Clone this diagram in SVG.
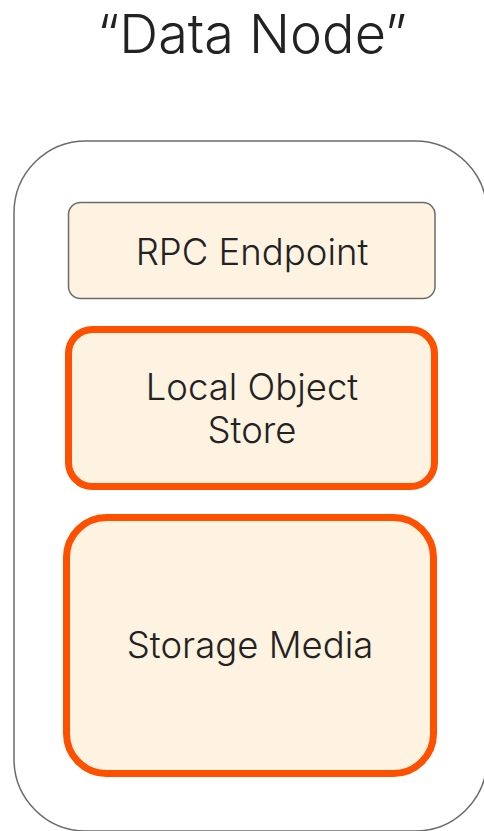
<svg xmlns="http://www.w3.org/2000/svg" width="484" height="831" viewBox="0 0 484 831">
  <style>
    .label { font-family: Inter, "Noto Sans", "Liberation Sans", sans-serif; font-weight: 300; fill: #222222; text-anchor: middle; }
    .box { fill: #FEF2E1; }
    .plain { stroke: #6b6b6b; stroke-width: 1.5; }
    .hot { stroke: #FF5000; stroke-width: 7; }
  </style>
  <rect width="484" height="831" fill="#ffffff"/>
  <text class="label" x="252" y="53" font-size="54">“Data Node”</text>
  <g id="data-node">
    <rect x="14" y="141" width="473" height="690" rx="72" fill="none" stroke="#6b6b6b" stroke-width="1.5"/>
  </g>
  <g id="rpc-endpoint">
    <rect class="box plain" x="68.5" y="202.5" width="366.5" height="96" rx="12"/>
    <text class="label" x="252" y="265" font-size="36.5">RPC Endpoint</text>
  </g>
  <g id="local-object-store">
    <rect class="box hot" x="68.5" y="329.5" width="366" height="157" rx="24"/>
    <text class="label" x="252" y="400" font-size="36.5">Local Object</text>
    <text class="label" x="252" y="443" font-size="36.5">Store</text>
  </g>
  <g id="storage-media">
    <rect class="box hot" x="66.5" y="517.5" width="367" height="256" rx="40"/>
    <text class="label" x="250" y="658" font-size="36.5">Storage Media</text>
  </g>
  <g id="connectors"/>
</svg>
